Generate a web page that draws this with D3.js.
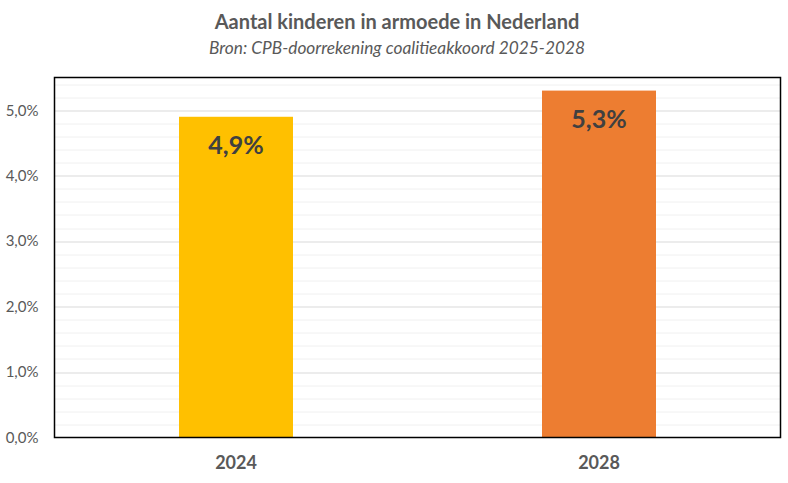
<!DOCTYPE html>
<html><head><meta charset="utf-8">
<script src="https://cdn.jsdelivr.net/npm/d3@7"></script>
<style>body{margin:0;background:#fff;} svg{display:block;font-family:Lato,"Open Sans",sans-serif;}</style>
</head><body>
<svg id="chart" width="788" height="483"></svg>
<script>
const categories = ["2024", "2028"];
const values = [4.9, 5.3];
const barColors = ["#FFC000", "#ED7D31"];
const yMajorTicks = [0, 1, 2, 3, 4, 5];
const yMax = 5.5;
const title = "Aantal kinderen in armoede in Nederland";
const subtitle = "Bron: CPB-doorrekening coalitieakkoord 2025-2028";

const svg = d3.select("#chart");
const m = {left: 54.5, right: 788 - 780.5, top: 77.5, bottom: 483 - 437.5};
const W = 788 - m.left - m.right, H = 483 - m.top - m.bottom;
const fmt = v => d3.format(".1f")(v).replace(".", ",") + "%";

const x = d3.scaleBand().domain(categories).range([0, W]).paddingInner(0.686).paddingOuter(0.343);
const y = d3.scaleLinear().domain([0, yMax]).range([H, 0]);

svg.append("text").attr("x", 397).attr("y", 29).attr("text-anchor", "middle")
  .attr("font-size", 20).attr("font-weight", "bold").attr("fill", "#595959").text(title);
svg.append("text").attr("x", 397).attr("y", 54).attr("text-anchor", "middle")
  .attr("font-size", 17.3).attr("font-style", "italic").attr("fill", "#595959").text(subtitle);

const g = svg.append("g").attr("transform", `translate(${m.left},${m.top})`);

const minorTicks = d3.range(0.2, yMax, 0.2).filter(t => Math.abs(t - Math.round(t)) > 1e-6);
g.append("g").selectAll("line").data(minorTicks).join("line")
  .attr("x1", 0).attr("x2", W).attr("y1", d => Math.round(y(d)) + 0.5).attr("y2", d => Math.round(y(d)) + 0.5)
  .attr("stroke", "#F0F0F0").attr("stroke-width", 1);
g.append("g").selectAll("line").data(yMajorTicks.filter(t => t > 0)).join("line")
  .attr("x1", 0).attr("x2", W).attr("y1", d => Math.round(y(d)) + 0.5).attr("y2", d => Math.round(y(d)) + 0.5)
  .attr("stroke", "#D9D9D9").attr("stroke-width", 1);

g.selectAll("rect.bar").data(values).join("rect").attr("class", "bar")
  .attr("x", (d, i) => x(categories[i])).attr("width", x.bandwidth())
  .attr("y", d => y(d)).attr("height", d => H - y(d))
  .attr("fill", (d, i) => barColors[i]);

g.selectAll("text.lbl").data(values).join("text").attr("class", "lbl")
  .attr("x", (d, i) => x(categories[i]) + x.bandwidth() / 2)
  .attr("y", d => y(d) + 37)
  .attr("text-anchor", "middle").attr("font-size", 25).attr("font-weight", "bold")
  .attr("fill", "#404040").text(d => fmt(d));

g.append("rect").attr("x", 0).attr("y", 0).attr("width", W).attr("height", H)
  .attr("fill", "none").attr("stroke", "#000").attr("stroke-width", 1.5);

const yAxis = g.append("g").call(d3.axisLeft(y).tickValues(yMajorTicks).tickFormat(fmt).tickSize(0).tickPadding(16));
yAxis.select(".domain").remove();
yAxis.selectAll("text").attr("font-size", 15).attr("fill", "#595959").attr("font-family", "Lato,sans-serif");

const xAxis = g.append("g").attr("transform", `translate(0,${H})`)
  .call(d3.axisBottom(x).tickSize(0).tickPadding(19));
xAxis.select(".domain").remove();
xAxis.selectAll("text").attr("font-size", 18).attr("font-weight", "bold").attr("fill", "#595959").attr("font-family", "Lato,sans-serif");
</script>
</body></html>
